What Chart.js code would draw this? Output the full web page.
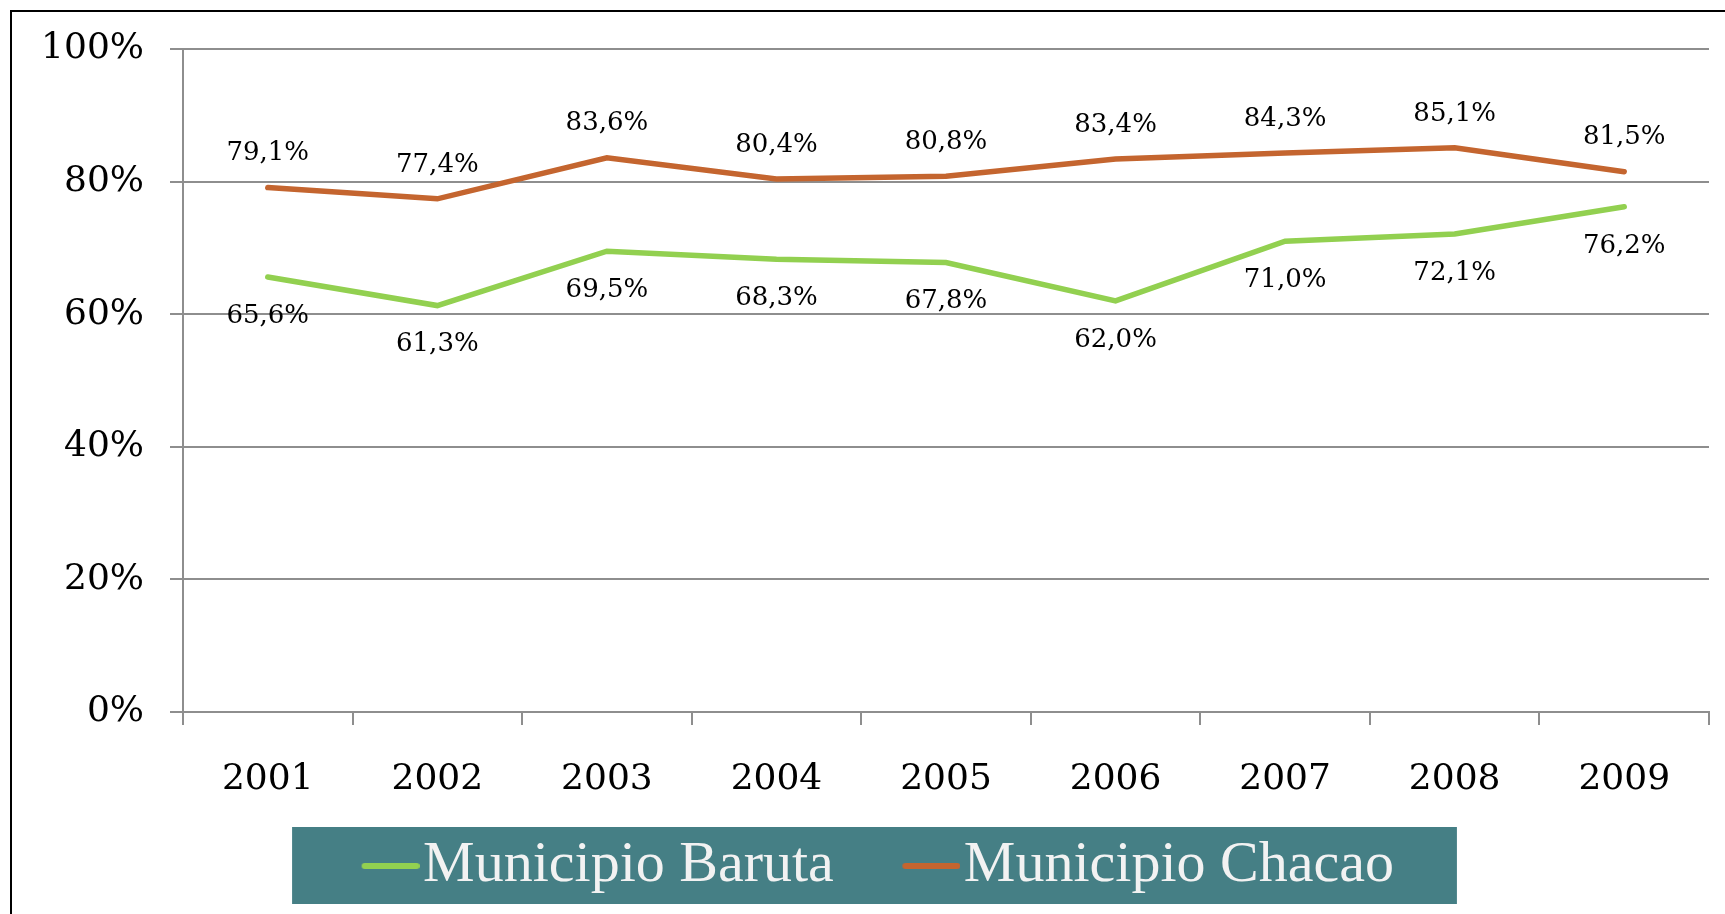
<!DOCTYPE html>
<html lang="es">
  <head>
    <meta charset="UTF-8" />
    <title>Municipio Baruta / Chacao</title>
    <style>
      html, body { margin: 0; padding: 0; background: #fff; overflow: hidden; }
      #frame { position: absolute; left: 10px; top: 10px; width: 1900px; height: 1100px; border: 2px solid #000; }
      #chart { position: absolute; left: 0; top: 0; }
    </style>
  </head>
  <body>
    <div id="frame"></div>
    <canvas id="chart" width="1725" height="914"></canvas>

    <script src="https://cdn.jsdelivr.net/npm/chart.js@4.4.1/dist/chart.umd.min.js"></script>
    <script>
      // datos
      var years = ['2001', '2002', '2003', '2004', '2005', '2006', '2007', '2008', '2009'];
      var baruta = [65.6, 61.3, 69.5, 68.3, 67.8, 62.0, 71.0, 72.1, 76.2];
      var chacao = [79.1, 77.4, 83.6, 80.4, 80.8, 83.4, 84.3, 85.1, 81.5];
      var yTicks = [0, 20, 40, 60, 80, 100];

      var serif = 'DejaVu Serif';
      var gridGray = '#8e8e8e';
      var green = '#92d050';
      var orange = '#c4652f';

      function pct(v) {
        return v.toFixed(1).replace('.', ',') + '%';
      }

      // muestra de linea para la leyenda: queda pegada al texto
      // (la caja de la leyenda mide 91px, el texto empieza 29px despues)
      function legendLine(color) {
        var c = document.createElement('canvas');
        c.width = 142;
        c.height = 8;
        var g = c.getContext('2d');
        g.strokeStyle = color;
        g.lineWidth = 6;
        g.lineCap = 'round';
        g.beginPath();
        g.moveTo(71 + 16, 4);
        g.lineTo(71 + 68, 4);
        g.stroke();
        return c;
      }

      // etiquetas de valores (arriba para Chacao, abajo para Baruta)
      var valueLabels = {
        id: 'valueLabels',
        afterDatasetsDraw: function (chart) {
          var ctx = chart.ctx;
          ctx.save();
          ctx.font = '26px "' + serif + '"';
          ctx.fillStyle = '#000';
          ctx.textAlign = 'center';
          ctx.textBaseline = 'middle';
          chart.data.datasets.forEach(function (ds, i) {
            var meta = chart.getDatasetMeta(i);
            var dy = ds.labelOffset;
            meta.data.forEach(function (pt, j) {
              ctx.fillText(pct(ds.data[j]), pt.x, pt.y + dy);
            });
          });
          ctx.restore();
        }
      };

      // fondo verde azulado de la leyenda
      var legendBg = {
        id: 'legendBg',
        beforeDraw: function (chart) {
          var boxes = chart.legend.legendHitBoxes;
          if (!boxes || !boxes.length) return;
          var first = boxes[0], last = boxes[boxes.length - 1];
          var cy = first.top + first.height / 2;
          var left = first.left - 11;
          var right = last.left + last.width + 63;
          var ctx = chart.ctx;
          ctx.save();
          ctx.fillStyle = '#457f85';
          ctx.fillRect(left, cy - 39, right - left, 77);
          ctx.restore();
        }
      };

      var ctx = document.getElementById('chart');
      var chart = new Chart(ctx, {
        type: 'line',
        data: {
          labels: years,
          datasets: [{
            label: 'Municipio Baruta',
            data: baruta,
            borderColor: green,
            backgroundColor: green,
            borderWidth: 5.5,
            borderCapStyle: 'round',
            pointRadius: 0,
            pointStyle: legendLine(green),
            tension: 0,
            labelOffset: 39
          }, {
            label: 'Municipio Chacao',
            data: chacao,
            borderColor: orange,
            backgroundColor: orange,
            borderWidth: 5.5,
            borderCapStyle: 'round',
            pointRadius: 0,
            pointStyle: legendLine(orange),
            tension: 0,
            labelOffset: -34
          }]
        },
        options: {
          responsive: false,
          animation: false,
          devicePixelRatio: 1,
          layout: { padding: { left: -12, right: 16, top: 49, bottom: 9 } },
          plugins: {
            tooltip: { enabled: false },
            legend: {
              position: 'bottom',
              labels: {
                usePointStyle: true,
                pointStyleWidth: 91,
                color: '#f2f2f2',
                padding: 10,
                font: { family: 'Liberation Serif', size: 58 }
              }
            }
          },
          scales: {
            x: {
              offset: true,
              grid: { offset: true, drawOnChartArea: false, color: gridGray, lineWidth: 2, tickLength: 13 },
              border: { color: gridGray, width: 2 },
              ticks: { color: '#000', padding: 33, font: { family: serif, size: 36 } },
              afterFit: function (scale) { scale.height = 115; }
            },
            y: {
              min: 0,
              max: 100,
              afterBuildTicks: function (scale) {
                scale.ticks = yTicks.map(function (v) { return { value: v }; });
              },
              grid: { color: gridGray, lineWidth: 2, tickLength: 13 },
              border: { color: gridGray, width: 2 },
              ticks: {
                color: '#000',
                padding: 26,
                font: { family: serif, size: 36 },
                callback: function (v) { return v + '%'; }
              },
              afterFit: function (scale) { scale.width = 195; }
            }
          }
        },
        plugins: [legendBg, valueLabels]
      });
    </script>
  </body>
</html>
